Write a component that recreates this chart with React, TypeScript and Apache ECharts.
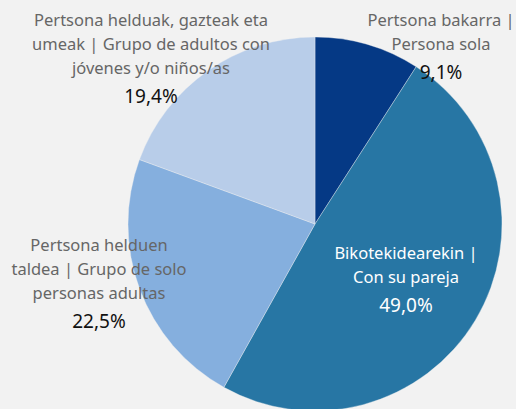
import React, { useEffect, useRef } from "react";
import * as echarts from "echarts";

const categories = [
  "Pertsona bakarra |\nPersona sola",
  "Bikotekidearekin |\nCon su pareja",
  "Pertsona helduen\ntaldea | Grupo de solo\npersonas adultas",
  "Pertsona helduak, gazteak eta\numeak | Grupo de adultos con\njóvenes y/o niños/as",
];
const values = [9.1, 49.0, 22.5, 19.4];
const colors = ["#053985", "#2776a4", "#85afde", "#b8cde9"];
// label block anchor: [centre x, top y]
const labelAnchors = [
  [441, 7],
  [406, 240],
  [99, 232],
  [151, 7],
];

export default function App() {
  const ref = useRef<HTMLDivElement>(null);
  useEffect(() => {
    if (!ref.current) return;
    const chart = echarts.init(ref.current, null, { renderer: "svg" });
    const fontFamily = "'Noto Sans', sans-serif";
    const nameSize = 16.5;
    chart.setOption({
      animation: false,
      backgroundColor: "#f2f2f2",
      series: [
        {
          type: "pie",
          center: [315, 224],
          radius: 187,
          startAngle: 90,
          clockwise: true,
          avoidLabelOverlap: false,
          data: categories.map((c, i) => ({
            name: c,
            value: values[i],
            itemStyle: { color: colors[i] },
          })),
          itemStyle: { borderColor: "rgba(242,242,242,0.6)", borderWidth: 0.6 },
          label: {
            show: true,
            position: "outside",
            align: "center",
            overflow: "none",
            width: 400,
            formatter: (p: any) => {
              const suffix = p.dataIndex === 1 ? "w" : "";
              return `{n${suffix}|${p.name}}\n{v${suffix}|${p.value
                .toFixed(1)
                .replace(".", ",")}%}`;
            },
            rich: {
              n: { color: "#666666", fontSize: nameSize, lineHeight: 24, fontFamily, align: "center" },
              v: { color: "#111111", fontSize: 19, lineHeight: 34, fontFamily, align: "center" },
              nw: { color: "#ffffff", fontSize: nameSize, lineHeight: 24, fontFamily, align: "center" },
              vw: { color: "#ffffff", fontSize: 19, lineHeight: 34, fontFamily, align: "center" },
            },
          },
          labelLine: { show: false },
          labelLayout: (p: any) => ({
            x: labelAnchors[p.dataIndex][0],
            y: labelAnchors[p.dataIndex][1],
            align: "center",
            verticalAlign: "top",
            hideOverlap: false,
          }),
        },
      ],
    });
    return () => chart.dispose();
  }, []);
  return (
    <div
      ref={ref}
      style={{ position: "fixed", left: 0, top: 0, width: 516, height: 409 }}
    />
  );
}
